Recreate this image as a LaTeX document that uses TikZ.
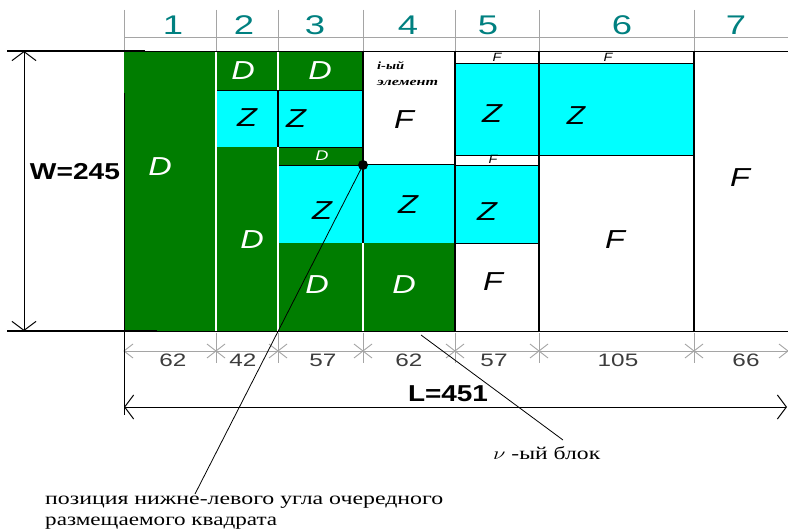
\documentclass[tikz,border=0pt]{standalone}
\usepackage{fontspec}
\setmainfont{Liberation Serif}
\newfontfamily\arialf{Liberation Sans}
\usetikzlibrary{arrows.meta}
\definecolor{dgreen}{RGB}{0,125,0}
\definecolor{cyanc}{RGB}{0,255,255}
\definecolor{tealc}{RGB}{0,128,128}
\definecolor{gridc}{RGB}{165,165,165}
\definecolor{numc}{RGB}{60,60,60}
\newcommand\sx[2]{\scalebox{#1}[1]{#2}}
\newcommand\fitw[2]{\resizebox{#1}{\height}{#2}}
\begin{document}
\begin{tikzpicture}[x=1pt,y=-1pt,
  cellC/.style={fill=cyanc,draw=black,line width=0.8pt},
  cellW/.style={fill=white,draw=black,line width=0.8pt},
  cellS/.style={fill=dgreen,draw=black,line width=0.8pt},
  whiteline/.style={draw=white,line width=1.6pt},
  thickline/.style={draw=black,line width=2pt},
  gridline/.style={draw=gridc,line width=0.9pt},
  hdr/.style={text=tealc,font=\arialf\fontsize{27}{27}\selectfont,inner sep=0pt},
  dimnum/.style={text=numc,font=\arialf\fontsize{18}{18}\selectfont,inner sep=0pt},
  bigW/.style={text=white,font=\arialf\itshape\fontsize{26}{26}\selectfont,inner sep=0pt},
  bigB/.style={text=black,font=\arialf\itshape\fontsize{26}{26}\selectfont,inner sep=0pt},
  smallW/.style={text=white,font=\arialf\itshape\fontsize{14}{14}\selectfont,inner sep=0pt},
  smallB/.style={text=black,font=\arialf\itshape\fontsize{12}{12}\selectfont,inner sep=0pt},
  dimlabel/.style={text=black,font=\arialf\bfseries\fontsize{23}{23}\selectfont,inner sep=0pt},
  note/.style={text=black,font=\fontsize{18}{18}\selectfont,inner sep=0pt,anchor=west},
  tiny/.style={text=black,font=\bfseries\itshape\fontsize{11}{11}\selectfont,inner sep=0pt,anchor=west},
  dimarrow/.style={draw=black,line width=1pt,
     {Straight Barb[length=9pt,width=24pt,line width=1pt]}-{Straight Barb[length=9pt,width=24pt,line width=1pt]}},
  leader/.style={draw=black,line width=0.8pt}
]
\useasboundingbox (0,0) rectangle (788,532);
\fill[white] (0,0) rectangle (788,532);

% ---------- header grid ----------
\foreach \xx in {216,278,363,455,539,694} \draw[gridline] (\xx,10) -- (\xx,51);
\draw[gridline] (124,10) -- (124,93);
\draw[gridline] (124,37) -- (788,37);
\node[hdr] (h1) at (173,25) {\sx{1.35}{1}};
\node[hdr] (h2) at (244,25) {\sx{1.35}{2}};
\node[hdr] (h3) at (315,25) {\sx{1.35}{3}};
\node[hdr] (h4) at (408,25) {\sx{1.35}{4}};
\node[hdr] (h5) at (488,25) {\sx{1.35}{5}};
\node[hdr] (h6) at (622,25) {\sx{1.35}{6}};
\node[hdr] (h7) at (736,25) {\sx{1.35}{7}};

% ---------- cells ----------
% column 1
\fill[dgreen] (124,51) rectangle (216,331);
% column 2
\fill[dgreen] (216,51) rectangle (278,90);
\draw[cellC] (216,90) rectangle (278,147);
\fill[dgreen] (216,147) rectangle (278,331);
% column 3
\fill[dgreen] (278,51) rectangle (363,90);
\draw[cellC] (278,90) rectangle (363,147);
\draw[cellS] (278,147) rectangle (363,165);
\draw[cellC] (278,165) rectangle (363,243);
\fill[dgreen] (278,243) rectangle (363,331);
% column 4
\draw[cellC] (363,164) rectangle (455,243);
\fill[dgreen] (363,243) rectangle (455,331);
% column 5
\draw[cellW] (455,51) rectangle (539,63);
\draw[cellC] (455,63) rectangle (539,155);
\draw[cellW] (455,155) rectangle (539,165);
\draw[cellC] (455,165) rectangle (539,243);
% column 6
\draw[cellW] (539,51) rectangle (694,63);
\draw[cellC] (539,63) rectangle (694,155);

% white separators between green cells
\draw[whiteline] (216,51) -- (216,331);
\draw[whiteline] (278,51) -- (278,90);
\draw[whiteline] (278,147) -- (278,331);
\draw[whiteline] (363,243) -- (363,331);

% thick black column lines
\draw[thickline] (363,51) -- (363,243);
\draw[thickline] (455,51) -- (455,331);
\draw[thickline] (539,51) -- (539,331);
\draw[thickline] (694,51) -- (694,331);
\draw[thickline] (278,90) -- (278,147);

% outer borders
\draw[black,line width=0.8pt] (124,51) -- (788,51);
\draw[black,line width=1.2pt] (7,51) -- (145,51);
\draw[black,line width=0.8pt] (7,331) -- (788,331);
\draw[black,line width=1.2pt] (7,331) -- (157,331);
\draw[black,line width=0.8pt] (124,93) -- (124,331);

% ---------- cell labels ----------
\node[bigW] (d1) at (160,167) {\sx{1.25}{D}};
\node[bigW] (d2a) at (243,71) {\sx{1.25}{D}};
\node[bigW] (d3a) at (320,71) {\sx{1.25}{D}};
\node[bigB] (z2) at (247,118) {\sx{1.25}{Z}};
\node[bigB] (z3a) at (296,119) {\sx{1.25}{Z}};
\node[smallW] (d3s) at (322,156) {\sx{1.3}{D}};
\node[bigW] (d2b) at (252,240) {\sx{1.25}{D}};
\node[bigB] (z3b) at (322,211) {\sx{1.25}{Z}};
\node[bigB] (z4) at (408,205) {\sx{1.25}{Z}};
\node[bigW] (d3b) at (317,285) {\sx{1.25}{D}};
\node[bigW] (d4) at (404,285) {\sx{1.25}{D}};
\node[tiny] (ia) at (377,66) {\fitw{27pt}{i-ый}};
\node[tiny] (ib) at (377,83) {\fitw{61pt}{элемент}};
\node[bigB] (f4) at (404,120) {\sx{1.25}{F}};
\node[smallB] (f5a) at (497,57) {\sx{1.2}{F}};
\node[smallB] (f6a) at (608,57) {\sx{1.2}{F}};
\node[bigB] (z5a) at (492,114) {\sx{1.25}{Z}};
\node[bigB] (z6) at (576,116) {\sx{1.15}{Z}};
\node[smallB] (f5b) at (493,159) {\sx{1.2}{F}};
\node[bigB] (z5b) at (487,212) {\sx{1.25}{Z}};
\node[bigB] (f5c) at (493,282) {\sx{1.25}{F}};
\node[bigB] (f6) at (615,240) {\sx{1.25}{F}};
\node[bigB] (f7) at (740,178) {\sx{1.25}{F}};

% ---------- W dimension ----------
\coordinate (Wtop) at (24,51);
\coordinate (Wbot) at (24,331);
\draw[dimarrow] (Wtop) -- (Wbot);
\node[dimlabel] (W) at (75,172) {\fitw{90pt}{W=245}};

% ---------- bottom dimension row ----------
\draw[gridline] (124,351) -- (788,351);
\foreach \xx in {216,278,363,455,539,694,788} {
  \draw[gridline] (\xx,333) -- (\xx,363);
  \draw[gridline] (\xx-9,344) -- (\xx+9,358);
  \draw[gridline] (\xx-9,358) -- (\xx+9,344);
}
\draw[gridline] (133,344) -- (124,351) -- (133,358);
\node[dimnum] (n1) at (173,360) {\sx{1.35}{62}};
\node[dimnum] (n2) at (243,360) {\sx{1.35}{42}};
\node[dimnum] (n3) at (323,360) {\sx{1.35}{57}};
\node[dimnum] (n4) at (409,360) {\sx{1.35}{62}};
\node[dimnum] (n5) at (494,360) {\sx{1.35}{57}};
\node[dimnum] (n6) at (618,360) {\sx{1.35}{105}};
\node[dimnum] (n7) at (746,360) {\sx{1.35}{66}};

% ---------- L dimension ----------
\draw[black,line width=1pt] (124,331) -- (124,415);
\coordinate (Lleft) at (124,407);
\coordinate (Lright) at (787,407);
\draw[dimarrow] (Lleft) -- (Lright);
\node[dimlabel] (L) at (448,394) {\fitw{80pt}{L=451}};

% ---------- leaders ----------
\fill[black] (363,165) circle (5);
\coordinate (dot) at (363,165);
\coordinate (leadA) at (195,494);
\draw[leader] (dot) -- (leadA);
\coordinate (leadB1) at (421,335);
\coordinate (leadB2) at (563,440);
\draw[leader] (leadB1) -- (leadB2);

\node[note] (posA) at (45,502) {\fitw{398pt}{позиция нижне-левого угла очередного}};
\node[note] (posB) at (45,523) {\fitw{232pt}{размещаемого квадрата}};
\node[note] (nu) at (493,453) {\fitw{107pt}{$\nu$ -ый блок}};
\end{tikzpicture}
\end{document}
